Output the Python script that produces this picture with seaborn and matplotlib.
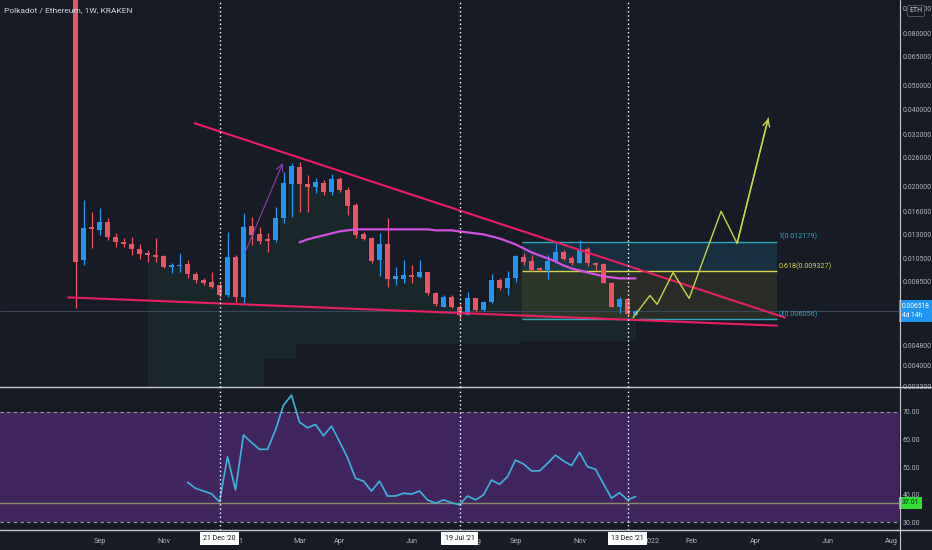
import numpy as np
import matplotlib
matplotlib.use("Agg")
import matplotlib.pyplot as plt
import matplotlib.transforms as mtransforms
from matplotlib.lines import Line2D
from matplotlib.ticker import NullLocator, NullFormatter
import seaborn as sns

# weekly candles DOT/ETH, week 0 = week of 17 Aug 2020
opens = [0.1200, 0.01030, 0.01388, 0.01351, 0.01452, 0.01268, 0.01212, 0.01191, 0.01138, 0.01097,
         0.01078, 0.01068, 0.00967, 0.00976, 0.00993, 0.00908, 0.00860, 0.00845, 0.00822, 0.00751,
         0.01058, 0.00744, 0.01401, 0.01303, 0.01245, 0.01234, 0.01506, 0.02046, 0.02387, 0.02046,
         0.01991, 0.02064, 0.01904, 0.02141, 0.01938, 0.01693, 0.01303, 0.01256, 0.01030, 0.01191,
         0.00868, 0.00868, 0.00900, 0.00884, 0.00924, 0.00765, 0.00674, 0.00738, 0.00674, 0.00632,
         0.00731, 0.00656, 0.00705, 0.00860, 0.00800, 0.00876, 0.01058, 0.01021, 0.00958, 0.00941,
         0.01011, 0.01107, 0.01049, 0.01002, 0.01138, 0.01002, 0.00993, 0.00837, 0.00674, 0.00725,
         0.00632]
highs = [0.1300, 0.01771, 0.01590, 0.01647, 0.01506, 0.01314, 0.01256, 0.01268, 0.01191, 0.01128,
         0.01256, 0.01078, 0.01002, 0.01097, 0.01030, 0.00924, 0.00876, 0.00924, 0.00837, 0.01326,
         0.01078, 0.01575, 0.01520, 0.01388, 0.01314, 0.01662, 0.02281, 0.02475, 0.02497, 0.02220,
         0.02161, 0.02122, 0.02240, 0.02180, 0.01991, 0.01724, 0.01326, 0.01268, 0.01314, 0.01506,
         0.00967, 0.01030, 0.00984, 0.01030, 0.00924, 0.00772, 0.00751, 0.00751, 0.00693, 0.00772,
         0.00731, 0.00712, 0.00908, 0.00876, 0.00933, 0.01078, 0.01097, 0.01078, 0.00967, 0.01078,
         0.01202, 0.01128, 0.01068, 0.01234, 0.01159, 0.01011, 0.01002, 0.00845, 0.00738, 0.00731,
         0.00656]
lows = [0.00668, 0.00984, 0.01149, 0.01291, 0.01234, 0.01159, 0.01159, 0.01078, 0.01039, 0.01011,
        0.01011, 0.00958, 0.00916, 0.00924, 0.00876, 0.00837, 0.00822, 0.00805, 0.00738, 0.00738,
        0.00705, 0.00699, 0.01180, 0.01191, 0.01107, 0.01212, 0.01439, 0.01520, 0.01590, 0.01590,
        0.01887, 0.01853, 0.01853, 0.01904, 0.01547, 0.01256, 0.01234, 0.01002, 0.00892, 0.00808,
        0.00822, 0.00837, 0.00837, 0.00876, 0.00751, 0.00686, 0.00674, 0.00668, 0.00610, 0.00627,
        0.00650, 0.00650, 0.00699, 0.00786, 0.00751, 0.00845, 0.00984, 0.00933, 0.00933, 0.00868,
        0.01002, 0.01030, 0.00984, 0.01002, 0.00976, 0.00941, 0.00837, 0.00674, 0.00644, 0.00632,
        0.00627]
closes = [0.01011, 0.01376, 0.01363, 0.01452, 0.01268, 0.01212, 0.01191, 0.01138, 0.01087, 0.01078,
          0.01058, 0.00967, 0.00984, 0.00984, 0.00908, 0.00860, 0.00837, 0.00808, 0.00751, 0.01058,
          0.00744, 0.01388, 0.01291, 0.01223, 0.01223, 0.01506, 0.02064, 0.02408, 0.02046, 0.01991,
          0.02083, 0.01904, 0.02141, 0.01938, 0.01678, 0.01291, 0.01245, 0.01021, 0.01191, 0.00868,
          0.00892, 0.00900, 0.00884, 0.00924, 0.00765, 0.00693, 0.00738, 0.00674, 0.00632, 0.00731,
          0.00656, 0.00705, 0.00860, 0.00800, 0.00876, 0.01068, 0.01011, 0.00941, 0.00941, 0.01021,
          0.01107, 0.01039, 0.01002, 0.01138, 0.01002, 0.00984, 0.00837, 0.00674, 0.00725, 0.00638,
          0.006518]

# moving average (magenta), from week 28
ma_start = 28
ma_values = [0.01212, 0.01245, 0.01268, 0.01291, 0.01314, 0.01338, 0.01351, 0.01363, 0.01363, 0.01363,
             0.01363, 0.01363, 0.01363, 0.01363, 0.01363, 0.01363, 0.01363, 0.01351, 0.01351, 0.01351,
             0.01338, 0.01326, 0.01314, 0.01303, 0.01279, 0.01256, 0.01223, 0.01191, 0.01149, 0.01107,
             0.01078, 0.01049, 0.01021, 0.00984, 0.00958, 0.00941, 0.00924, 0.00908, 0.00892, 0.00884,
             0.00876, 0.00876, 0.00876]

# RSI, from week 14
rsi_start = 14
rsi_values = [44.5, 42.3, 41.3, 40.3, 37.4, 53.7, 41.7, 61.6, 58.9, 56.4, 56.4,
              63.4, 72.4, 76.0, 66.2, 64.2, 65.4, 61.3, 64.8, 59.2, 53.4, 45.9,
              44.9, 41.3, 44.9, 39.5, 39.5, 40.5, 40.2, 41.3, 38.1, 36.9, 38.1,
              37.1, 36.3, 39.5, 38.1, 39.9, 45.3, 43.7, 46.5, 52.5, 51.1, 48.6,
              48.6, 51.3, 54.3, 52.2, 50.5, 55.3, 50.1, 49.2, 43.9, 38.7, 40.7,
              38.1, 39.3]

# green shaded zone under the candles, weeks 9..70, lower edge
cloud_start = 9
cloud_floor = [0.0030, 0.0030, 0.0030, 0.0030, 0.0030, 0.0030, 0.0030, 0.0030,
               0.0030, 0.0030, 0.0030, 0.0030, 0.0030, 0.0030, 0.0030,
               0.00425, 0.00425, 0.00425, 0.00425,
               0.00487, 0.00487, 0.00487, 0.00487, 0.00487, 0.00487, 0.00487,
               0.00487, 0.00487, 0.00487, 0.00487, 0.00487, 0.00487, 0.00487,
               0.00487, 0.00487, 0.00487, 0.00487, 0.00487, 0.00487, 0.00487,
               0.00487, 0.00487, 0.00487, 0.00487, 0.00487, 0.00487, 0.00487,
               0.0050, 0.0050, 0.0050, 0.0050, 0.0050, 0.0050, 0.0050, 0.0050,
               0.0050, 0.0050, 0.0050, 0.0050, 0.0050, 0.0050, 0.0050]

price_ticks = [0.1, 0.08, 0.065, 0.05, 0.04, 0.032, 0.026, 0.02, 0.016, 0.013,
               0.0105, 0.0085, 0.007, 0.0048, 0.004, 0.0033]
rsi_ticks = [30, 40, 50, 60, 70]

month_weeks = [3, 11, 20, 28, 33, 42, 50, 55, 63, 72, 77, 85, 94, 102]
month_labels = ["Sep", "Nov", "2021", "Mar", "Apr", "Jun", "Aug", "Sep", "Nov",
                "2022", "Feb", "Apr", "Jun", "Aug"]

marker_weeks = [18, 48, 69]
marker_labels = ["21 Dec '20", "19 Jul '21", "13 Dec '21"]

fib_labels = ["1", "0.618", "0"]
fib_prices = [0.012179, 0.009327, 0.006056]
fib_weeks = [55.8, 87.7]

upper_weeks, upper_prices = [14.9, 88.7], [0.0355, 0.00615]
lower_weeks, lower_prices = [-0.9, 87.7], [0.00738, 0.00572]

path_weeks = [69.7, 71.8, 72.7, 74.7, 76.7, 80.7, 82.7, 86.6]
path_prices = [0.00615, 0.00751, 0.00693, 0.00924, 0.00731, 0.01604, 0.01202, 0.03713]

arrow_weeks, arrow_prices = [21.2, 25.9], [0.01107, 0.02475]

last_price = 0.006518
last_rsi = 37.01

BG = "#171b26"
TXT = "#b2b5be"
UP, DOWN = "#2196f3", "#ef5361"

sns.set_theme(style="dark")
plt.rcParams["font.family"] = ["Roboto", "DejaVu Sans"]

W, H = 932, 550
fig = plt.figure(figsize=(W / 100, H / 100), dpi=100, facecolor=BG)
ax = fig.add_axes([0, 1 - 387 / H, 899 / W, 387 / H])
rx = fig.add_axes([0, 1 - 530 / H, 899 / W, 142 / H], sharex=ax)

for a in (ax, rx):
    a.set_facecolor(BG)
    a.grid(False)
    for s in a.spines.values():
        s.set_visible(False)

weeks = np.arange(len(opens))
o, h, l, c = map(np.array, (opens, highs, lows, closes))

# --- price pane ---
ax.set_yscale("log")
ax.set_ylim(0.00329, 0.1078)
ax.set_xlim(-75.5 / 8, -75.5 / 8 + 899 / 8)

cw = np.arange(cloud_start, len(opens))
ax.fill_between(cw, cloud_floor, np.minimum(o, c)[cloud_start:], step="mid",
                color="#2f6b45", alpha=0.16, lw=0, zorder=1)

ax.fill_between(fib_weeks, fib_prices[1], fib_prices[0], color="#1d5f7c", alpha=0.3, lw=0, zorder=1)
ax.fill_between(fib_weeks, fib_prices[2], fib_prices[1], color="#6e702c", alpha=0.22, lw=0, zorder=1)
fib_cols = ["#2ea6bd", "#d8d64c", "#2ea6bd"]
ax.hlines(fib_prices, fib_weeks[0], fib_weeks[1], colors=fib_cols, lw=1, zorder=2)
for lab, p, col in zip(fib_labels, fib_prices, fib_cols):
    ax.text(fib_weeks[1] + 0.2, p * 1.012, f"{lab}({p:.6f})", color=col, fontsize=5.2,
            ha="left", va="bottom", zorder=5)

ax.axhline(last_price, color="#3a475a", lw=0.8, zorder=1)

cols = np.where(c >= o, UP, DOWN)
ax.vlines(weeks, l, h, colors=cols, lw=0.9, zorder=3)
bottoms = np.minimum(o, c)
heights = np.maximum(np.abs(c - o), bottoms * 0.005)
ax.bar(weeks, heights, bottom=bottoms, width=0.68, color=cols, lw=0, zorder=3)

sns.lineplot(x=np.arange(ma_start, ma_start + len(ma_values)), y=ma_values, ax=ax,
             color="#d64fe3", lw=1.6, zorder=4)

ax.plot(upper_weeks, upper_prices, color="#e91e63", lw=1.5, zorder=4)
ax.plot(lower_weeks, lower_prices, color="#e91e63", lw=1.5, zorder=4)

ax.plot(path_weeks, path_prices, color="#c9d447", lw=1, zorder=4)
ax.annotate("", xy=(path_weeks[-1], path_prices[-1]), xytext=(path_weeks[-2], path_prices[-2]),
            arrowprops=dict(arrowstyle="->", color="#c9d447", lw=1, shrinkA=0, shrinkB=0), zorder=4)
ax.annotate("", xy=(arrow_weeks[1], arrow_prices[1]), xytext=(arrow_weeks[0], arrow_prices[0]),
            arrowprops=dict(arrowstyle="->", color="#8e3fb0", lw=0.8, shrinkA=0, shrinkB=0), zorder=4)

ax.yaxis.tick_right()
ax.set_yticks(price_ticks)
ax.set_yticklabels([f"{t:.6f}" for t in price_ticks])
ax.yaxis.set_minor_locator(NullLocator())
ax.yaxis.set_minor_formatter(NullFormatter())
ax.tick_params(axis="y", length=0, pad=2.5, labelsize=5.0, labelcolor=TXT)
ax.tick_params(axis="x", length=0, labelbottom=False)
ax.set_xlabel("")
ax.set_ylabel("")

ax.text(0.004, 1 - 7 / 387, "Polkadot / Ethereum, 1W, KRAKEN", transform=ax.transAxes,
        color="#d1d4dc", fontsize=6.0, ha="left", va="top")

tr = mtransforms.blended_transform_factory(ax.transAxes, ax.transData)
ax.text(1.003, last_price, f"{last_price:.6f}\n4d 14h", transform=tr, color="white",
        fontsize=4.8, ha="left", va="center", linespacing=1.35, clip_on=False, zorder=6,
        bbox=dict(boxstyle="square,pad=0.45", fc="#2196f3", ec="none"))

# --- RSI pane ---
rx.set_ylim(27.2, 78.6)
rx.axhspan(30, 70, color="#40265c", lw=0, zorder=0)
for lvl in (70, 30):
    rx.axhline(lvl, color="#9598a1", lw=0.8, ls=(0, (3, 3)), zorder=1)
rx.axhline(last_rsi, color="#8c8a6c", lw=1, zorder=1)
sns.lineplot(x=np.arange(rsi_start, rsi_start + len(rsi_values)), y=rsi_values, ax=rx,
             color="#3fb3dd", lw=1.2, zorder=3)

rx.yaxis.tick_right()
rx.set_yticks(rsi_ticks)
rx.set_yticklabels([f"{t:.2f}" for t in rsi_ticks])
rx.tick_params(axis="y", length=0, pad=2.5, labelsize=5.0, labelcolor=TXT)
rx.set_xticks(month_weeks)
rx.set_xticklabels(month_labels)
rx.tick_params(axis="x", length=0, pad=6, labelsize=5.2, labelcolor=TXT)
rx.set_xlabel("")
rx.set_ylabel("")

trr = mtransforms.blended_transform_factory(rx.transAxes, rx.transData)
rx.text(1.003, last_rsi, f"{last_rsi:.2f}", transform=trr, color="#131722", fontsize=5.0,
        ha="left", va="center", clip_on=False, zorder=6,
        bbox=dict(boxstyle="square,pad=0.35", fc="#2fe02f", ec="none"))

for w, lab in zip(marker_weeks, marker_labels):
    for a in (ax, rx):
        a.axvline(w, color="white", lw=1, ls=(0, (1, 2)), zorder=5)
    rx.text(w, -0.035, lab, transform=mtransforms.blended_transform_factory(rx.transData, rx.transAxes),
            color="#131722", fontsize=5.0, ha="center", va="top", clip_on=False, zorder=7,
            bbox=dict(boxstyle="square,pad=0.45", fc="white", ec="none"))

# pane separators and right border
for y in (387, 530):
    fig.add_artist(Line2D([0, 1], [1 - y / H, 1 - y / H], transform=fig.transFigure,
                          color="#c8cad0", lw=1))
fig.add_artist(Line2D([899.5 / W, 899.5 / W], [0, 1], transform=fig.transFigure,
                      color="#c8cad0", lw=0.8))

fig.text(916 / W, 1 - 11 / H, "ETH", color="#d1d4dc", fontsize=5.0, ha="center", va="center",
         bbox=dict(boxstyle="round,pad=0.3", fc=BG, ec="#5d606b", lw=0.6))

fig.savefig("out.png", dpi=100, facecolor=BG)
